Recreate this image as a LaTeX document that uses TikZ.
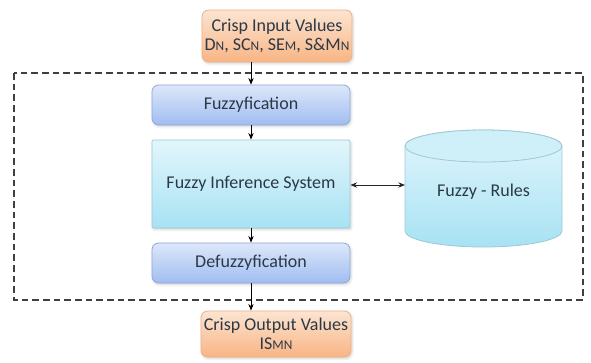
\documentclass[tikz,border=0pt]{standalone}
\usepackage{fontspec}
\setmainfont{Carlito}
\usepackage{tikz}
\usetikzlibrary{arrows.meta,positioning,shadows.blur}
\definecolor{ink}{HTML}{2B3947}
\definecolor{peach}{HTML}{FCE4D2}
\definecolor{apricot}{HTML}{F8B584}
\definecolor{peachline}{HTML}{EFB083}
\definecolor{skytop}{HTML}{DDE7FA}
\definecolor{skybot}{HTML}{A0BDF0}
\definecolor{skyline}{HTML}{8EA8D6}
\definecolor{aquatop}{HTML}{E2F6FC}
\definecolor{aquabot}{HTML}{A7E2F3}
\definecolor{aqualine}{HTML}{9CC9D6}
\definecolor{framegrey}{HTML}{3F3F3F}
\newcommand{\px}{0.75pt}
\newcommand{\lowcap}[1]{{\fontsize{10}{10}\selectfont #1}}
\tikzset{
  box/.style={rounded corners=5pt,inner sep=0pt,align=center,text=ink,line width=0.6pt,font=\fontsize{13.5}{14.5}\selectfont,blur shadow={shadow blur steps=4,shadow opacity=18,shadow xshift=0.8pt,shadow yshift=-1.2pt}},
  crisp/.style={box,draw=peachline,top color=peach,bottom color=apricot},
  stage/.style={box,draw=skyline,top color=skytop,bottom color=skybot,minimum width=198*\px,minimum height=40*\px},
  fisbox/.style={box,rounded corners=1pt,draw=aqualine,top color=aquatop,bottom color=aquabot,minimum width=198*\px,minimum height=88*\px},
  cylbody/.style={draw=aqualine,line width=0.6pt,top color=aquatop,bottom color=aquabot},
  cyltop/.style={draw=aqualine,line width=0.6pt,fill=aquatop!70!aquabot},
  arrow/.style={-{Stealth[length=5pt,width=4pt]},line width=0.7pt,color=black},
  biarrow/.style={{Stealth[length=5pt,width=4pt]}-{Stealth[length=5pt,width=4pt]},line width=0.7pt,color=black!85},
  frame/.style={dashed,dash pattern=on 5pt off 3pt,line width=1.1pt,color=framegrey},
}

\begin{document}
\begin{tikzpicture}[x=0.75pt,y=-0.75pt]
  \useasboundingbox (0,0) rectangle (591,362);
  \draw[frame] (14,73) rectangle (583,300);
  % input / output values
  \node[crisp,minimum width=150*\px,minimum height=52*\px] (input) at (277,36) {Crisp Input Values\\D\lowcap{N}, SC\lowcap{N}, SE\lowcap{M}, S\&M\lowcap{N}};
  \node[crisp,minimum width=150*\px,minimum height=46*\px] (output) at (276,334) {Crisp Output Values\\IS\lowcap{MN}};
  % fuzzy stages
  \node[stage] (fuzz) at (251,105) {Fuzzyfication};
  \node[fisbox] (fis) at (251,184) {Fuzzy Inference System};
  \node[stage] (defuzz) at (251,263) {Defuzzyfication};
  % rule base
  \path[cylbody] (405,146) -- (405,231) arc[start angle=180,end angle=0,x radius=78.5,y radius=16]
    -- (562,146) arc[start angle=0,end angle=-180,x radius=78.5,y radius=16] -- cycle;
  \draw[cyltop] (483.5,146) ellipse[x radius=78.5,y radius=16];
  \node[text=ink,font=\fontsize{13.5}{14.5}\selectfont] (rules) at (483.5,192) {Fuzzy - Rules};
  \coordinate (rulesW) at (405,185);
  % connectors
  \draw[arrow] (input.south -| fuzz.north) -- (fuzz.north);
  \draw[arrow] (fuzz) -- (fis);
  \draw[arrow] (fis) -- (defuzz);
  \draw[arrow] (defuzz.south) -- (defuzz.south |- output.north);
  \draw[biarrow] (fis.east |- rulesW) -- (rulesW);
\end{tikzpicture}
\end{document}
